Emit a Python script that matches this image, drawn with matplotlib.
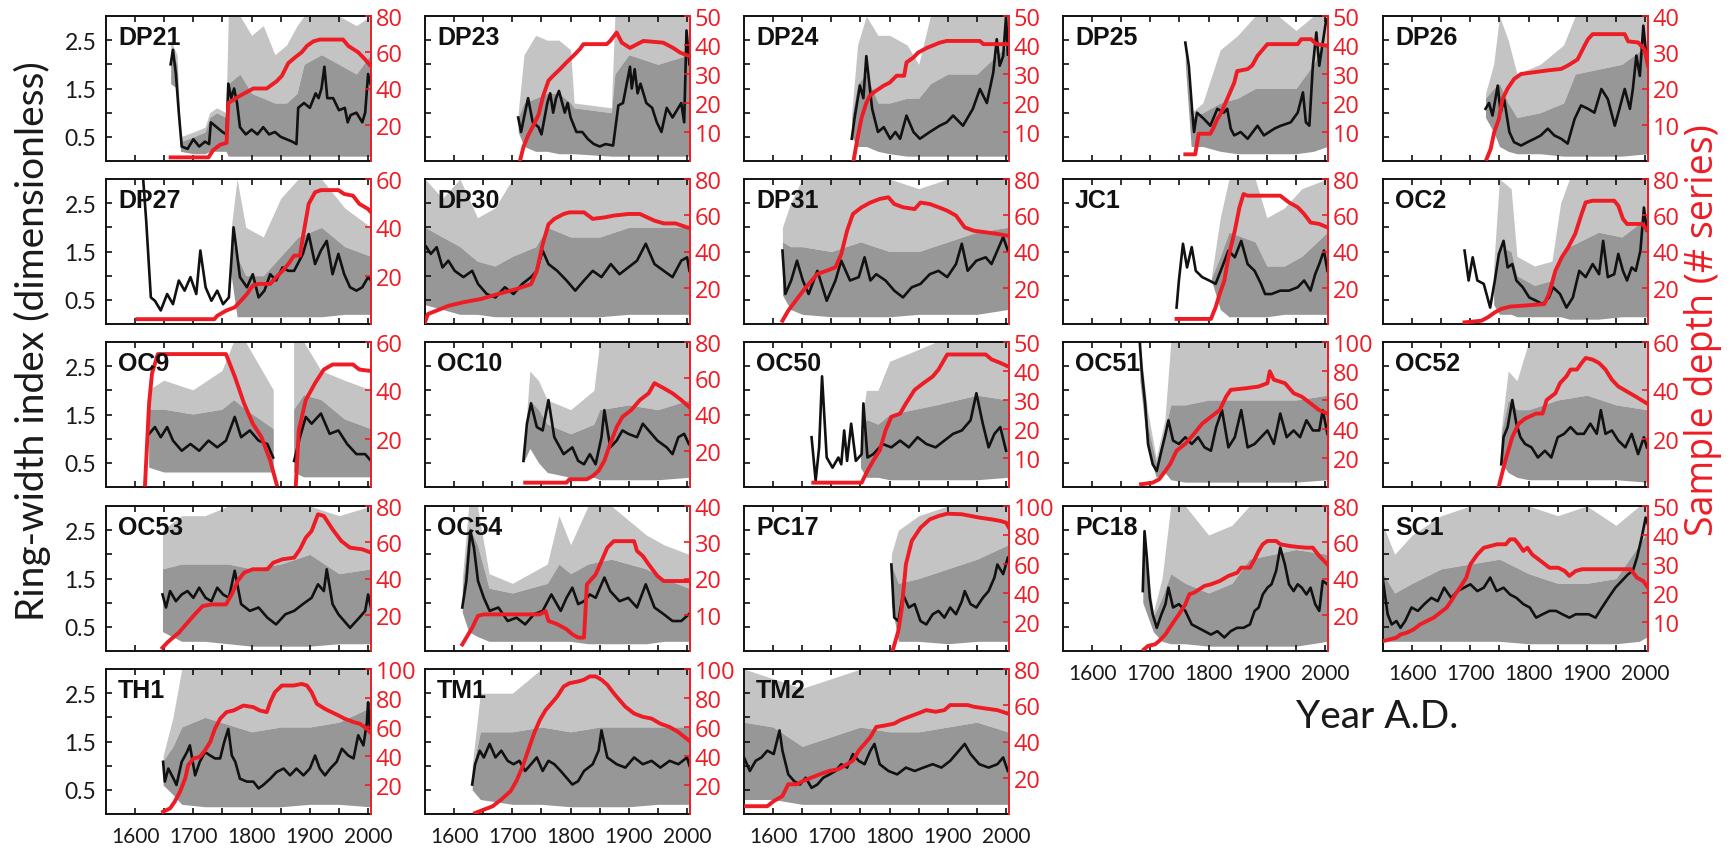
import numpy as np
import matplotlib
matplotlib.use('Agg')
import matplotlib.pyplot as plt
from matplotlib.ticker import FixedLocator, NullFormatter

nan = np.nan

# ---------------- data ----------------
panels = ['DP21', 'DP23', 'DP24', 'DP25', 'DP26',
          'DP27', 'DP30', 'DP31', 'JC1', 'OC2',
          'OC9', 'OC10', 'OC50', 'OC51', 'OC52',
          'OC53', 'OC54', 'PC17', 'PC18', 'SC1',
          'TH1', 'TM1', 'TM2']
depth_max = [80, 50, 50, 50, 40,
             60, 80, 80, 80, 80,
             60, 80, 50, 100, 60,
             80, 40, 100, 80, 50,
             100, 100, 80]
x_major = [1600, 1700, 1800, 1900, 2000]
x_minor = [1650, 1750, 1850, 1950]
y_major = [0.5, 1.5, 2.5]
y_minor = [1.0, 2.0]

# _x/_y: mean chronology; _gx/_glo/_gmid/_ghi: envelope of individual series; _dx/_dy: sample depth
# ---- DP21
DP21_x = [1661,1665,1670,1675,1680,1690,1700,1710,1720,1727,1730,1740,1750,1757,1760,1765,1770,1775,1780,1790,1800,1810,1820,1830,1840,1850,1860,1870,1877,1880,1890,1900,1910,1915,1920,1925,1930,1940,1950,1960,1965,1970,1980,1990,1995,2000,2004]
DP21_y = [2.0,2.3,1.8,1.0,0.3,0.25,0.45,0.3,0.4,0.35,0.8,0.7,0.6,0.55,1.6,1.3,1.5,1.2,0.7,0.55,0.65,0.55,0.7,0.55,0.6,0.5,0.45,0.4,0.35,1.1,1.2,1.1,1.4,1.3,1.5,1.95,1.3,1.3,1.05,1.1,0.8,0.95,1.0,0.8,1.0,1.8,1.6]
DP21_gx = [1661,1672,1678,1700,1720,1728,1740,1756,1760,1780,1800,1820,1840,1860,1878,1890,1920,1950,1980,2004]
DP21_glo = [1.6,1.5,0.2,0.15,0.15,0.2,0.2,0.2,0.1,0.1,0.1,0.1,0.1,0.1,0.1,0.1,0.1,0.1,0.1,0.1]
DP21_gmid = [2.3,2.0,0.4,0.5,0.6,0.9,1.0,0.9,1.6,1.8,1.4,1.3,1.2,1.2,1.4,2.0,2.2,2.0,1.8,2.2]
DP21_ghi = [2.5,2.2,0.5,0.6,0.7,1.0,1.1,1.0,3.0,3.0,2.6,2.8,2.2,2.4,2.8,3.0,3.0,3.0,2.8,3.0]
DP21_dx = [1661,1726,1734,1746,1757,1760,1780,1803,1826,1843,1852,1863,1874,1886,1895,1906,1917,1957,1966,1983,1995,2003]
DP21_dy = [2,2,6,9,10,32,36,40,40,44,47,54,57,60,63.5,66,67,67,63.5,60,56,53]

# ---- DP23
DP23_x = [1710,1715,1720,1727,1735,1745,1750,1760,1765,1770,1775,1780,1790,1795,1800,1810,1820,1830,1840,1850,1860,1873,1882,1890,1902,1905,1910,1915,1920,1930,1940,1948,1956,1965,1975,1985,1990,1995,1999,2004]
DP23_y = [0.9,0.6,0.9,1.3,0.8,0.7,0.55,1.2,1.4,1.0,1.3,1.45,1.0,1.2,0.9,0.6,0.6,0.45,0.35,0.3,0.35,0.32,1.15,1.2,1.95,1.5,1.9,1.4,1.6,1.2,1.1,0.8,0.6,1.1,0.9,1.1,1.2,0.8,2.7,2.0]
DP23_gx = [1710,1720,1740,1760,1780,1800,1806,1870,1876,1900,1950,2004]
DP23_glo = [0.6,0.3,0.2,0.2,0.15,0.15,0.15,0.1,0.1,0.1,0.1,0.1]
DP23_gmid = [0.9,1.2,1.3,1.4,1.4,1.2,1.1,1.0,1.8,2.2,2.0,2.2]
DP23_ghi = [1.0,2.2,2.6,2.5,2.5,2.3,1.2,1.1,3.0,3.0,3.0,3.0]
DP23_dx = [1713,1719,1727,1736,1745,1753,1762,1770,1782,1793,1805,1816,1822,1862,1868,1879,1888,1902,1925,1959,1976,1988,2002]
DP23_dy = [0,4.8,8.8,12.2,16,22.5,27.7,29.4,31.7,34,36.3,38.6,40.3,40.3,41.4,44.3,40.8,39,41.4,40.8,39,37.4,36.3]

# ---- DP24
DP24_x = [1735,1740,1749,1755,1760,1770,1780,1790,1801,1810,1818,1829,1841,1852,1869,1886,1898,1909,1926,1943,1955,1967,1978,1984,1989,1995,2000,2003]
DP24_y = [0.46,0.9,1.56,1.3,2.17,1.08,0.6,0.7,0.46,0.6,0.46,0.94,0.6,0.46,0.6,0.73,0.8,0.94,0.73,1.08,1.49,1.2,1.83,2.52,1.97,2.17,3.0,2.2]
DP24_gx = [1735,1745,1760,1780,1800,1830,1850,1870,1900,1950,2003]
DP24_glo = [0.5,0.3,0.3,0.2,0.15,0.1,0.1,0.1,0.1,0.1,0.1]
DP24_gmid = [0.9,1.6,1.8,1.2,1.2,1.3,1.3,1.6,1.8,1.8,2.4]
DP24_ghi = [1.0,2.4,3.0,2.6,2.6,2.4,2.0,3.0,3.0,3.0,3.0]
DP24_dx = [1738,1745,1752,1760,1766,1775,1790,1800,1812,1825,1829,1841,1849,1864,1886,1898,1955,1961,2003]
DP24_dy = [0,8,15,20,22.5,24,26,27,29.4,29.4,34,35.7,37.4,39,40.8,41.4,41.4,40.3,40.3]

# ---- DP25
DP25_x = [1760,1766,1772,1775,1780,1792,1803,1815,1826,1832,1838,1844,1855,1867,1884,1895,1913,1924,1941,1953,1962,1967,1973,1979,1985,1990,1996,2002]
DP25_y = [2.45,1.97,1.0,0.6,1.0,0.87,0.73,1.08,1.0,1.08,0.67,0.53,0.6,0.46,0.73,0.53,0.67,0.73,0.8,1.0,1.42,0.8,0.73,1.97,2.66,1.97,2.45,2.93]
DP25_gx = [1760,1770,1790,1820,1850,1880,1920,1950,1980,2004]
DP25_glo = [2.0,0.3,0.3,0.2,0.15,0.15,0.15,0.15,0.2,0.3]
DP25_gmid = [2.3,0.9,1.0,1.2,1.3,1.5,1.5,1.5,2.0,2.5]
DP25_ghi = [2.4,1.0,1.2,2.3,2.6,3.0,3.0,2.7,3.0,3.0]
DP25_dx = [1760,1777,1783,1803,1809,1815,1820,1832,1844,1849,1867,1875,1884,1901,1953,1959,1976,1985,2005]
DP25_dy = [2.3,2.3,9.4,9.4,11.7,14.5,16,21.4,27,31,31.7,33,36.3,40.3,40.3,42,42,40.3,39.7]

# ---- DP26
DP26_x = [1726,1732,1738,1747,1752,1758,1767,1775,1787,1798,1810,1821,1833,1844,1856,1867,1879,1890,1902,1913,1925,1936,1948,1956,1965,1974,1979,1985,1991,1997,2002]
DP26_y = [1.08,1.2,0.94,1.56,1.0,1.28,0.6,0.39,0.32,0.39,0.46,0.53,0.67,0.53,0.46,0.36,0.87,1.15,1.08,1.0,1.49,1.28,0.73,1.08,1.49,1.08,1.49,2.18,1.76,2.8,2.18]
DP26_gx = [1726,1740,1750,1765,1780,1820,1860,1880,1920,1960,2005]
DP26_glo = [0.9,0.6,0.3,0.2,0.15,0.15,0.1,0.1,0.1,0.1,0.15]
DP26_gmid = [1.3,1.5,1.6,1.2,0.9,1.0,1.2,1.8,1.9,2.0,2.4]
DP26_ghi = [1.4,2.0,3.0,2.5,1.8,2.0,2.4,3.0,3.0,3.0,3.0]
DP26_dx = [1728,1735,1741,1749,1755,1764,1775,1787,1833,1856,1867,1884,1896,1902,1910,1965,1971,1988,1999,2005]
DP26_dy = [0.6,3.4,8,11.6,17,20,22.6,24,25,25.4,26.3,28,31.8,33.6,35,35,33,32.7,30.8,26.3]

# ---- DP27
DP27_x = [1614,1619,1627,1634,1644,1655,1665,1675,1685,1695,1705,1712,1721,1731,1741,1751,1761,1769,1780,1792,1802,1812,1822,1832,1842,1853,1863,1873,1888,1898,1909,1919,1929,1939,1949,1959,1969,1980,1990,2000,2005]
DP27_y = [2.97,2.14,0.55,0.48,0.28,0.62,0.41,0.9,0.69,0.97,0.62,1.52,0.76,0.48,0.69,0.41,0.55,2.0,0.97,0.76,1.03,0.55,0.69,1.03,0.9,1.17,1.1,1.1,1.45,1.86,1.24,1.52,1.72,1.03,1.45,1.03,0.76,0.69,0.76,0.97,0.9]
DP27_gx = [1765,1775,1790,1820,1850,1880,1920,1960,2005]
DP27_glo = [1.0,0.15,0.15,0.15,0.15,0.15,0.15,0.2,0.2]
DP27_gmid = [1.8,1.4,1.0,1.0,1.4,1.8,2.0,1.6,1.4]
DP27_ghi = [2.0,3.0,2.0,1.8,2.6,3.0,3.0,2.4,2.0]
DP27_dx = [1604,1736,1741,1756,1771,1782,1792,1802,1812,1832,1842,1853,1863,1873,1883,1888,1898,1909,1919,1949,1959,1974,1985,2000,2005]
DP27_dy = [2,2,3.4,5.5,6.9,9.7,12.4,15.9,16.6,16.6,19.3,22,24.8,28.3,28.3,35.9,49.7,54.5,55.4,55.4,53.8,53.1,49.7,47.6,46.2]

# ---- DP30
DP30_x = [1552,1560,1570,1580,1590,1601,1616,1631,1641,1656,1671,1687,1702,1717,1732,1742,1752,1762,1777,1793,1808,1823,1838,1853,1869,1884,1899,1914,1929,1944,1960,1975,1990,2000,2004]
DP30_y = [1.6,1.45,1.59,1.17,1.31,1.1,0.97,1.1,0.83,0.62,0.55,0.76,0.62,0.83,0.97,1.1,1.52,1.24,1.1,0.9,0.69,0.9,1.1,0.97,1.24,1.03,1.17,1.31,1.66,1.24,1.1,0.97,1.31,1.38,1.1]
DP30_gx = [1550,1580,1610,1640,1670,1700,1740,1760,1800,1850,1900,1950,2005]
DP30_glo = [0.4,0.3,0.2,0.2,0.15,0.15,0.15,0.15,0.15,0.15,0.2,0.2,0.2]
DP30_gmid = [2.0,1.8,1.6,1.3,1.2,1.4,1.6,2.0,1.8,1.8,2.0,2.0,2.0]
DP30_ghi = [3.0,2.6,3.0,2.2,2.4,3.0,3.0,3.0,3.0,3.0,3.0,3.0,3.0]
DP30_dx = [1550,1555,1570,1590,1616,1646,1676,1707,1732,1742,1752,1762,1772,1788,1798,1823,1838,1858,1874,1899,1919,1944,1960,1980,2000,2004]
DP30_dy = [0.9,5.5,7.4,10,12,13.8,16.6,19.3,22,29.4,44,55,58,60.7,61.6,61.6,58,58.8,59.8,60.7,60.7,57,55.5,55.5,53.3,53]

# ---- DP31
DP31_x = [1616,1621,1631,1641,1651,1661,1676,1692,1707,1717,1732,1747,1757,1767,1777,1793,1808,1823,1838,1853,1869,1884,1899,1914,1924,1934,1949,1965,1975,1985,1995,2003]
DP31_y = [1.52,0.62,0.9,1.31,0.9,0.62,1.1,0.48,0.9,1.31,0.9,0.97,1.38,0.9,1.03,0.9,0.69,0.55,0.76,0.83,1.03,1.1,0.97,1.24,1.66,1.1,1.31,1.38,1.24,1.52,1.8,1.52]
DP31_gx = [1616,1630,1650,1700,1750,1800,1850,1900,1950,2003]
DP31_glo = [0.6,0.3,0.2,0.15,0.15,0.15,0.2,0.2,0.2,0.3]
DP31_gmid = [1.7,1.6,1.6,1.5,1.7,1.5,1.5,1.7,1.9,2.0]
DP31_ghi = [2.0,2.5,3.0,3.0,3.0,3.0,2.8,3.0,3.0,3.0]
DP31_dx = [1616,1626,1641,1656,1676,1692,1707,1717,1727,1737,1752,1767,1783,1798,1808,1823,1843,1853,1869,1884,1899,1914,1929,1944,1965,1985,2003]
DP31_dy = [1.8,7.4,13.8,20.2,27.6,29.4,31.3,38.6,51.5,60.7,64.4,67,69,69.9,66.2,64.4,63.4,67,66.2,64.4,62.5,59.8,53.3,51.5,50.6,49.7,48.7]

# ---- JC1
JC1_x = [1745,1749,1756,1763,1771,1778,1789,1801,1812,1823,1834,1845,1856,1867,1879,1890,1897,1908,1923,1938,1953,1964,1975,1983,1990,1998,2004]
JC1_y = [0.34,0.9,1.66,1.17,1.59,1.1,0.97,0.9,0.83,1.17,1.52,1.38,1.72,1.24,1.1,0.83,0.62,0.62,0.69,0.69,0.76,0.9,0.69,1.03,1.24,1.52,1.1]
JC1_gx = [1805,1820,1835,1880,1900,1930,1960,2004]
JC1_glo = [0.9,0.3,0.15,0.15,0.15,0.2,0.2,0.2]
JC1_gmid = [0.95,1.4,1.9,1.7,1.2,1.2,1.4,1.9]
JC1_ghi = [1.0,2.2,3.0,3.0,2.2,2.4,2.8,3.0]
JC1_dx = [1745,1804,1812,1819,1827,1834,1845,1853,1860,1867,1923,1938,1953,1964,1975,1990,2004]
JC1_dy = [2.8,2.8,9.2,16.6,23.9,36.8,51.5,64.4,71.7,70.8,70.8,67.1,64.4,60.7,56,55.2,53.3]

# ---- OC2
OC2_x = [1690,1697,1704,1712,1723,1734,1742,1749,1757,1764,1772,1779,1790,1801,1813,1824,1835,1842,1854,1865,1876,1887,1898,1910,1921,1928,1936,1947,1954,1962,1969,1977,1984,1992,1998,2003]
OC2_y = [1.52,0.9,1.38,0.9,0.83,0.34,0.9,1.45,1.72,1.17,1.24,0.9,0.76,0.55,0.48,0.41,0.55,0.76,0.62,0.34,0.55,1.1,0.97,1.24,1.03,1.72,0.97,1.03,1.45,1.1,0.9,1.17,1.1,1.52,2.41,1.93]
OC2_gx = [1740,1750,1770,1780,1810,1840,1855,1870,1920,1960,2003]
OC2_glo = [0.4,0.2,0.2,0.15,0.15,0.15,0.15,0.1,0.1,0.15,0.15]
OC2_gmid = [1.0,1.6,1.5,1.0,0.8,0.9,1.3,1.6,1.9,1.8,2.2]
OC2_ghi = [1.2,3.0,2.8,1.4,1.2,1.3,2.5,3.0,3.0,3.0,3.0]
OC2_dx = [1690,1719,1730,1742,1753,1768,1790,1827,1835,1846,1857,1868,1880,1891,1898,1910,1947,1954,1962,1969,1995,2005]
OC2_dy = [0.9,1.8,3.7,6.4,8.3,9.6,10.1,11,16.6,29.4,36.8,42.3,49.7,60.7,67.1,68,68,65.3,58,55.2,55.2,51.5]

# ---- OC9
OC9_x = [1624,1634,1644,1655,1665,1680,1695,1710,1726,1741,1756,1771,1782,1797,1812,1827,1837,1855,1873,1883,1893,1903,1919,1934,1949,1964,1980,1995,2005]
OC9_y = [1.1,1.24,1.03,1.24,0.96,0.75,0.89,0.75,0.96,0.82,0.96,1.45,1.03,1.17,0.96,0.89,0.61,nan,0.54,1.03,1.45,1.31,1.52,1.1,1.17,0.89,0.68,0.68,0.54]
OC9_gx = [1624,1650,1700,1750,1770,1790,1838,1855,1873,1890,1920,1960,2005]
OC9_glo = [0.4,0.3,0.3,0.3,0.3,0.3,0.3,nan,0.3,0.2,0.2,0.2,0.2]
OC9_gmid = [1.6,1.6,1.5,1.6,1.8,1.6,1.2,nan,1.6,1.9,1.8,1.4,1.2]
OC9_ghi = [2.0,2.2,2.0,2.4,3.0,3.0,2.0,nan,3.0,3.0,2.4,2.2,2.0]
OC9_dx = [1617,1624,1629,1639,1756,1771,1787,1802,1817,1832,1843,1860,1876,1881,1893,1909,1924,1939,1974,1985,2005]
OC9_dy = [1,34.6,47,55,55,45.8,34.6,26.2,20.6,10.9,1.1,nan,1.1,23.4,36,43,48.6,50.7,50.7,48.6,48]

# ---- OC10
OC10_x = [1719,1725,1732,1742,1752,1762,1772,1788,1803,1813,1823,1833,1843,1853,1858,1868,1879,1889,1899,1914,1924,1934,1949,1965,1975,1985,1995,2003]
OC10_y = [0.54,1.31,1.73,1.24,1.17,1.8,1.03,0.68,0.82,0.54,0.47,0.68,0.47,1.03,1.59,0.82,0.96,1.17,1.1,1.03,1.31,1.17,0.96,0.82,0.68,1.03,1.1,0.89]
OC10_gx = [1719,1730,1745,1760,1800,1840,1850,1900,1950,2003]
OC10_glo = [0.5,0.8,0.5,0.3,0.2,0.2,0.15,0.15,0.15,0.2]
OC10_gmid = [0.55,1.8,1.6,1.3,1.1,1.3,1.6,1.7,1.6,1.8]
OC10_ghi = [0.6,2.4,2.2,1.8,1.6,2.0,3.0,3.0,3.0,3.0]
OC10_dx = [1722,1793,1798,1828,1838,1848,1858,1868,1879,1889,1904,1919,1934,1944,1960,1975,1990,2003]
OC10_dy = [2.4,2.4,4.3,4.3,6.1,8.9,14.5,23.8,33,38.7,42.4,48,51.7,57.3,54.5,51.7,48,44.3]

# ---- OC50
OC50_x = [1666,1673,1679,1684,1692,1702,1712,1717,1722,1727,1734,1742,1752,1755,1762,1772,1788,1803,1818,1833,1848,1863,1879,1894,1909,1924,1939,1949,1960,1970,1980,1990,2000]
OC50_y = [1.03,0.13,0.82,2.29,0.61,0.4,0.61,0.47,1.17,0.54,1.31,0.54,0.68,1.73,0.61,0.68,0.89,0.82,0.96,0.82,1.03,0.89,0.82,0.96,1.1,1.17,1.38,1.94,1.31,0.82,1.1,1.24,0.75]
OC50_gx = [1750,1760,1780,1800,1840,1880,1950,2003]
OC50_glo = [0.4,0.2,0.2,0.15,0.15,0.15,0.15,0.2]
OC50_gmid = [1.0,1.4,1.3,1.5,1.6,1.7,1.9,1.8]
OC50_ghi = [1.2,2.0,2.0,2.6,2.8,3.0,3.0,3.0]
OC50_dx = [1669,1752,1762,1772,1783,1793,1803,1818,1828,1843,1858,1874,1884,1899,1965,1975,1990,2003]
OC50_dy = [1.5,1.5,5.6,9.1,12.6,19.5,24.2,25.3,28.8,33.5,35.8,38.1,40.5,45.7,45.7,44,42.8,41.6]

# ---- OC51
OC51_x = [1682,1685,1691,1696,1704,1711,1719,1726,1731,1739,1749,1760,1771,1782,1793,1804,1813,1823,1834,1845,1856,1867,1879,1890,1901,1912,1923,1934,1946,1957,1968,1979,1990,1996,2004]
OC51_y = [2.97,2.43,1.73,0.89,0.47,0.33,0.75,1.1,1.38,0.96,0.89,1.03,0.89,1.03,0.82,0.75,1.24,1.59,0.82,1.03,1.59,0.82,0.89,1.03,1.17,0.89,1.52,1.03,1.17,1.03,1.38,1.17,1.17,1.59,1.1]
OC51_gx = [1682,1695,1710,1725,1735,1760,1800,1850,1900,1950,2004]
OC51_glo = [2.2,0.8,0.2,0.3,0.15,0.1,0.1,0.1,0.1,0.1,0.15]
OC51_gmid = [2.9,1.3,0.5,1.2,1.7,1.7,1.8,1.8,1.8,1.8,1.9]
OC51_ghi = [3.0,1.6,0.6,1.4,3.0,3.0,3.0,3.0,3.0,3.0,3.0]
OC51_dx = [1684,1704,1715,1726,1734,1745,1760,1775,1789,1804,1819,1830,1838,1864,1886,1901,1905,1912,1931,1946,1960,1975,1990,2004]
OC51_dy = [1.9,3,5.3,11.2,15.8,25,29.8,36.7,43.7,48.4,53,62.3,67,68.1,69.3,71.6,79.8,74,71.6,64.7,62.3,57.7,53,50.7]

# ---- OC52
OC52_x = [1753,1757,1764,1772,1779,1786,1794,1805,1816,1828,1839,1850,1861,1872,1883,1895,1906,1917,1924,1932,1943,1954,1966,1977,1988,1998,2003]
OC52_y = [0.47,1.03,1.24,1.8,1.31,1.03,0.89,0.82,0.61,0.75,0.61,1.03,1.1,1.24,1.1,1.1,1.31,1.1,1.59,1.1,1.17,0.96,0.82,1.1,0.68,1.03,0.82]
OC52_gx = [1753,1765,1780,1800,1850,1900,1950,2003]
OC52_glo = [0.5,0.3,0.2,0.15,0.15,0.15,0.15,0.1]
OC52_gmid = [1.1,1.8,1.6,1.6,1.8,1.9,1.7,1.6]
OC52_ghi = [1.2,2.4,2.2,3.0,3.0,3.0,3.0,3.0]
OC52_dx = [1749,1760,1772,1783,1794,1813,1824,1831,1846,1854,1865,1872,1883,1891,1898,1910,1921,1932,1943,1954,1969,1984,2003]
OC52_dy = [0.4,10.9,20.7,26.2,28.3,30.4,30.4,36,38.8,43,45.8,48.6,48.6,51.3,53.4,52.7,51.3,48.6,44.4,41.6,39.5,37.4,34.6]

# ---- OC53
OC53_x = [1647,1653,1660,1670,1680,1690,1700,1710,1721,1731,1741,1751,1761,1771,1782,1797,1812,1827,1842,1858,1873,1888,1903,1914,1924,1929,1939,1949,1959,1969,1985,1995,2000,2005]
OC53_y = [1.17,0.9,1.24,1.03,1.17,1.24,1.1,1.31,1.1,1.03,1.31,1.17,1.1,1.66,0.97,0.83,0.9,0.69,0.55,0.76,0.83,0.97,1.1,1.38,1.24,1.69,0.97,0.76,0.62,0.48,0.69,0.83,1.17,0.9]
OC53_gx = [1647,1680,1720,1760,1800,1850,1900,1950,2005]
OC53_glo = [0.4,0.2,0.2,0.15,0.1,0.1,0.1,0.15,0.15]
OC53_gmid = [1.7,1.8,1.8,1.8,1.7,1.8,2.0,1.6,1.7]
OC53_ghi = [2.5,2.8,2.8,3.0,3.0,3.0,3.0,2.8,3.0]
OC53_dx = [1647,1655,1665,1675,1685,1695,1705,1716,1731,1756,1766,1776,1787,1802,1827,1837,1853,1873,1883,1893,1903,1914,1924,1939,1954,1969,1990,2005]
OC53_dy = [1.8,4.6,7.4,10.1,13.8,17.5,21.1,24.8,25.7,25.7,31.3,38.6,43.2,45.1,45.1,48.7,50.6,51.5,56.1,62.5,66.2,75.4,74.5,67.1,60.7,57,56.1,54.3]

# ---- OC54
OC54_x = [1614,1621,1628,1634,1641,1651,1661,1676,1692,1707,1722,1737,1752,1767,1783,1793,1803,1813,1823,1833,1843,1858,1868,1884,1899,1914,1929,1944,1960,1975,1990,2003]
OC54_y = [0.9,1.45,2.48,2.14,1.45,1.1,0.83,0.9,0.62,0.69,0.55,0.76,0.83,1.17,0.83,1.1,1.31,0.97,1.03,1.17,1.1,1.52,1.24,1.03,1.1,0.9,1.38,0.9,0.76,0.62,0.62,0.76]
OC54_gx = [1614,1625,1640,1660,1700,1760,1780,1800,1830,1870,1930,1960,2003]
OC54_glo = [0.8,0.4,0.3,0.2,0.2,0.2,0.2,0.2,0.15,0.15,0.15,0.2,0.2]
OC54_gmid = [1.3,2.6,2.2,1.3,1.2,1.4,1.8,1.6,1.8,1.9,1.7,1.5,1.3]
OC54_ghi = [1.5,3.0,3.0,1.6,1.4,1.8,2.8,2.2,3.0,3.0,2.4,2.2,2.0]
OC54_dx = [1614,1621,1631,1641,1651,1747,1757,1762,1777,1793,1803,1813,1823,1828,1843,1853,1863,1874,1909,1914,1924,1934,1949,1960,2003]
OC54_dy = [1.8,3.7,6.4,9.7,10.1,10.1,11,8.3,7.4,6,4.6,3.7,3.7,18.4,21.1,24.8,28.5,30.3,30.3,27.6,26.2,23.9,20.7,19.3,19.3]

# ---- PC17
PC17_x = [1803,1808,1815,1823,1833,1843,1853,1863,1874,1884,1894,1904,1914,1924,1929,1939,1949,1960,1970,1980,1985,1995,2003]
PC17_y = [1.79,0.69,0.62,1.17,0.9,0.97,0.62,0.55,0.76,0.83,0.69,0.9,0.76,1.03,1.24,0.97,0.9,1.1,1.24,1.52,1.79,1.59,1.93]
PC17_gx = [1803,1815,1850,1900,1950,2004]
PC17_glo = [1.0,0.2,0.2,0.15,0.2,0.2]
PC17_gmid = [1.8,1.4,1.5,1.7,1.9,2.2]
PC17_ghi = [2.0,2.5,2.8,3.0,3.0,3.0]
PC17_dx = [1805,1815,1821,1828,1838,1853,1869,1884,1899,1924,1954,1975,1990,2000,2005]
PC17_dy = [0,13.8,29.9,59.8,75.9,85,90.8,93.1,94.7,94.3,92,90.8,89.7,88.5,85]

# ---- PC18
PC18_x = [1687,1690,1694,1699,1704,1711,1719,1726,1731,1739,1749,1760,1771,1782,1793,1804,1815,1827,1838,1849,1860,1871,1879,1886,1893,1901,1908,1916,1923,1931,1938,1946,1953,1960,1968,1975,1983,1990,1996,2004]
PC18_y = [1.24,2.48,1.93,1.1,0.76,0.48,0.76,0.97,1.31,0.9,0.97,0.83,0.55,0.48,0.41,0.34,0.41,0.28,0.41,0.48,0.48,0.55,0.83,0.9,1.17,1.31,1.38,1.66,2.14,1.79,1.38,1.24,1.38,1.31,1.17,1.31,0.97,0.83,1.45,1.38]
PC18_gx = [1687,1705,1720,1735,1760,1800,1840,1870,1950,2004]
PC18_glo = [1.0,0.4,0.2,0.15,0.15,0.1,0.1,0.1,0.1,0.2]
PC18_gmid = [2.3,0.7,1.1,1.6,1.4,1.2,1.4,1.9,2.1,2.0]
PC18_ghi = [2.5,0.8,1.5,3.0,3.0,2.4,2.6,3.0,3.0,3.0]
PC18_dx = [1689,1696,1708,1715,1726,1737,1749,1760,1767,1775,1793,1804,1819,1834,1849,1856,1871,1879,1886,1893,1901,1916,1923,1938,1953,1968,1979,1990,2004]
PC18_dy = [0.9,2.8,3.7,5.5,9.2,14.7,20.2,25.7,31.3,32.2,35.9,36.8,38.6,41.4,43.2,46,46,50.6,55.2,58.9,60.7,60.7,58.9,58,57.4,57,57,52.4,47.8]

# ---- SC1
SC1_x = [1550,1558,1565,1573,1580,1588,1599,1610,1621,1633,1644,1655,1667,1678,1689,1700,1712,1723,1734,1745,1757,1768,1779,1791,1802,1813,1824,1836,1847,1858,1870,1881,1892,1903,1915,1926,1937,1949,1960,1971,1979,1986,1994,2001,2005]
SC1_y = [1.45,0.76,0.55,0.62,0.48,0.62,0.9,0.83,0.97,1.1,1.03,1.31,1.1,1.24,1.31,1.38,1.24,1.31,1.52,1.24,1.31,1.17,1.1,0.97,0.9,0.69,0.76,0.83,0.83,0.76,0.69,0.76,0.76,0.76,0.69,0.9,1.1,1.31,1.45,1.59,1.66,1.93,2.34,2.76,2.62]
SC1_gx = [1550,1570,1600,1650,1700,1750,1800,1850,1900,1950,1990,2005]
SC1_glo = [0.2,0.2,0.2,0.2,0.2,0.2,0.15,0.15,0.15,0.15,0.2,0.3]
SC1_gmid = [1.6,1.2,1.4,1.7,1.8,1.9,1.6,1.4,1.4,1.5,2.2,2.5]
SC1_ghi = [2.6,2.0,2.4,2.8,3.0,3.0,3.0,2.8,3.0,2.6,3.0,3.0]
SC1_dx = [1550,1561,1573,1580,1591,1603,1614,1625,1637,1648,1659,1667,1674,1682,1693,1700,1712,1723,1746,1761,1768,1776,1783,1791,1798,1806,1821,1836,1851,1862,1870,1881,1892,1975,1986,1997,2005]
SC1_dy = [3.4,4,4.6,5.7,6.3,7.5,9.2,10.3,11.5,13.2,14.9,17.2,19.5,21.8,25.3,29.9,33.3,35.6,36.8,36.8,38.5,38.5,36.8,34.5,35.6,33.3,31,28.7,28.7,27.6,25.9,27.6,28.2,28.2,25.3,24.1,21.8]

# ---- TH1
TH1_x = [1648,1651,1657,1666,1671,1680,1689,1694,1703,1711,1720,1729,1737,1746,1753,1760,1766,1772,1780,1792,1803,1812,1820,1832,1843,1855,1866,1877,1889,1900,1909,1917,1926,1935,1946,1955,1966,1975,1983,1992,1998,2000,2003]
TH1_y = [1.08,0.67,0.94,0.73,0.6,1.08,1.28,1.42,0.8,1.08,1.28,1.21,1.15,1.15,1.49,1.76,1.21,1.08,0.73,0.67,0.67,0.53,0.6,0.73,0.87,0.94,0.8,0.94,0.8,0.94,1.21,0.94,0.8,0.94,1.08,1.35,1.21,1.15,1.63,1.42,1.9,2.31,1.76]
TH1_gx = [1648,1665,1680,1720,1800,1850,1900,1950,2003]
TH1_glo = [0.6,0.4,0.2,0.15,0.15,0.15,0.2,0.2,0.15]
TH1_gmid = [1.1,1.4,1.8,2.0,1.7,1.8,1.8,1.9,2.2]
TH1_ghi = [1.2,2.0,3.0,3.0,3.0,3.0,3.0,3.0,3.0]
TH1_dx = [1648,1660,1668,1677,1686,1691,1700,1711,1720,1729,1737,1746,1757,1769,1786,1803,1814,1826,1832,1840,1852,1872,1886,1895,1903,1912,1926,1937,1949,1960,1975,1986,1998,2003]
TH1_dy = [1.6,3.9,8.5,15.3,24.5,33.6,38.2,39.4,43.9,49.7,58.8,65.7,70.3,71.4,74.8,73.7,71.4,70.3,77.1,84,88.6,88.6,89.7,88.6,84,76,72.5,70.3,68,65.7,63.4,62.2,58.8,56.5]

# ---- TM1
TM1_x = [1631,1636,1644,1651,1661,1671,1681,1692,1702,1712,1722,1732,1742,1752,1762,1772,1783,1793,1803,1813,1823,1838,1848,1853,1863,1879,1894,1909,1924,1939,1954,1970,1985,2000,2004]
TM1_y = [0.61,1.03,1.31,1.17,1.45,1.17,1.31,1.1,1.03,1.1,0.89,1.03,1.17,0.89,1.1,1.03,0.89,0.75,0.61,0.68,0.89,1.03,1.31,1.73,1.17,1.03,0.96,1.17,1.03,1.1,0.96,1.1,1.03,1.17,1.0]
TM1_gx = [1631,1645,1700,1750,1800,1850,1900,1950,2003]
TM1_glo = [0.5,0.3,0.2,0.2,0.15,0.15,0.15,0.2,0.2]
TM1_gmid = [0.9,1.7,1.7,1.8,1.7,1.8,1.8,1.8,1.8]
TM1_ghi = [1.0,2.5,2.5,3.0,3.0,3.0,3.0,3.0,3.0]
TM1_dx = [1636,1651,1666,1681,1697,1707,1717,1727,1737,1747,1757,1767,1777,1788,1798,1813,1823,1833,1843,1853,1863,1874,1884,1894,1909,1924,1939,1954,1970,1985,2003]
TM1_dy = [0.7,3,5.3,10,15.8,22.8,32.1,43.7,55.3,64.7,71.6,76.3,81,87.9,90.2,91.4,92.6,94.9,94.9,92.6,89.1,83.3,78.6,74,69.3,67,65.8,62.3,60,56.5,50.7]

# ---- TM2
TM2_x = [1550,1560,1570,1580,1590,1601,1611,1616,1626,1636,1646,1656,1666,1676,1686,1697,1707,1717,1727,1737,1747,1757,1767,1774,1783,1798,1813,1828,1843,1858,1874,1889,1904,1919,1929,1939,1954,1970,1985,1995,2003]
TM2_y = [1.17,0.89,1.1,1.17,1.31,1.24,1.73,1.31,0.82,0.68,0.61,0.75,0.54,0.61,0.75,0.82,0.89,1.03,0.96,1.24,1.1,1.03,1.31,1.45,1.03,0.89,0.82,0.96,0.89,0.96,1.03,0.96,1.1,1.31,1.45,1.24,1.03,0.96,1.03,1.17,0.89]
TM2_gx = [1550,1600,1650,1700,1750,1800,1850,1900,1950,2003]
TM2_glo = [0.3,0.3,0.2,0.2,0.2,0.2,0.2,0.2,0.2,0.2]
TM2_gmid = [1.9,1.8,1.4,1.6,1.8,1.7,1.7,1.8,1.9,1.7]
TM2_ghi = [3.0,2.8,2.6,2.8,3.0,3.0,3.0,3.0,3.0,3.0]
TM2_dx = [1550,1590,1601,1616,1626,1641,1651,1666,1681,1697,1712,1727,1737,1747,1757,1767,1777,1793,1808,1818,1833,1848,1863,1879,1894,1904,1934,1944,1965,1985,2003]
TM2_dy = [4.3,4.3,7.1,9.9,16.4,16.4,18.2,20.1,22,23.8,24.7,27.5,29.4,35,38.7,42.4,48,48.9,49.9,51.7,53.6,55.4,57.3,56.4,57.3,60.1,60.1,59.2,58.2,57.3,55.4]

# ---------------- figure ----------------
W, H = 1734, 854
RED = '#ee1c25'
GRAY = '#979797'
GRAY_LIGHT = '#c4c4c4'
fig = plt.figure(figsize=(W / 100, H / 100), dpi=100)
fig.patch.set_facecolor('white')

col_left = [106, 425, 744, 1063, 1383]
row_top = [17, 180, 343, 507, 670]
aw, ah = 265, 145
xlabel_panels = {'PC18', 'SC1', 'TH1', 'TM1', 'TM2'}

g = globals()
for i, name in enumerate(panels):
    r, c = divmod(i, 5)
    ax = fig.add_axes([col_left[c] / W, 1 - (row_top[r] + ah) / H, aw / W, ah / H])
    gx, glo = g[name + '_gx'], g[name + '_glo']
    gmid, ghi = g[name + '_gmid'], g[name + '_ghi']
    bx, by = g[name + '_x'], g[name + '_y']
    dx, dy = g[name + '_dx'], g[name + '_dy']
    n = min(len(gx), len(glo), len(gmid), len(ghi))
    ax.fill_between(gx[:n], gmid[:n], ghi[:n], color=GRAY_LIGHT, lw=0, zorder=1)
    ax.fill_between(gx[:n], glo[:n], gmid[:n], color=GRAY, lw=0, zorder=1.5)
    n = min(len(bx), len(by))
    ax.plot(bx[:n], by[:n], color='#111111', lw=1.9, zorder=2)
    ax.set_xlim(1550, 2005)
    ax.set_ylim(0, 3)
    ax.xaxis.set_major_locator(FixedLocator(x_major))
    ax.xaxis.set_minor_locator(FixedLocator(x_minor))
    ax.yaxis.set_major_locator(FixedLocator(y_major))
    ax.yaxis.set_minor_locator(FixedLocator(y_minor))
    ax.tick_params(axis='both', which='both', direction='in', length=4.5, width=1.2,
                   top=True, right=False, color='#111111')
    ax.tick_params(axis='y', labelsize=16.5, pad=7, labelfontfamily='Lato', labelcolor='#1a1a1a')
    ax.tick_params(axis='x', labelsize=15, pad=9, labelfontfamily='Lato', labelcolor='#1a1a1a')
    if name not in xlabel_panels:
        ax.xaxis.set_major_formatter(NullFormatter())
    if c != 0:
        ax.yaxis.set_major_formatter(NullFormatter())
    for s in ('left', 'top', 'bottom'):
        ax.spines[s].set_linewidth(1.4)
        ax.spines[s].set_color('#111111')
    ax.spines['right'].set_visible(False)

    ax2 = ax.twinx()
    m = depth_max[i]
    step = 10 if m <= 50 else 20
    n = min(len(dx), len(dy))
    ax2.plot(dx[:n], dy[:n], color=RED, lw=2.8, zorder=3)
    ax2.set_ylim(0, m)
    ax2.set_yticks(list(range(step, m + 1, step)))
    ax2.tick_params(axis='y', direction='in', length=4.5, width=1.2, colors=RED,
                    labelsize=17, pad=3.5, labelfontfamily='Open Sans')
    for s in ('left', 'top', 'bottom'):
        ax2.spines[s].set_visible(False)
    ax2.spines['right'].set_color(RED)
    ax2.spines['right'].set_linewidth(1.4)
    ax2.text(0.045, 0.855, name, transform=ax2.transAxes, ha='left', va='center',
             fontsize=18, fontweight='bold', family='Liberation Sans', color='#111111', zorder=5)

fig.text(32 / W, 1 - 341 / H, 'Ring-width index (dimensionless)', rotation=90,
         ha='center', va='center', fontsize=28, family='Lato', color='#1a1a1a')
fig.text(1703 / W, 1 - 330 / H, 'Sample depth (# series)', rotation=90,
         ha='center', va='center', fontsize=27, family='Open Sans', color=RED)
fig.text(1377 / W, 1 - 717 / H, 'Year A.D.', ha='center', va='center',
         fontsize=28, family='Lato', color='#1a1a1a')

fig.savefig('out.png', dpi=100, facecolor='white')
